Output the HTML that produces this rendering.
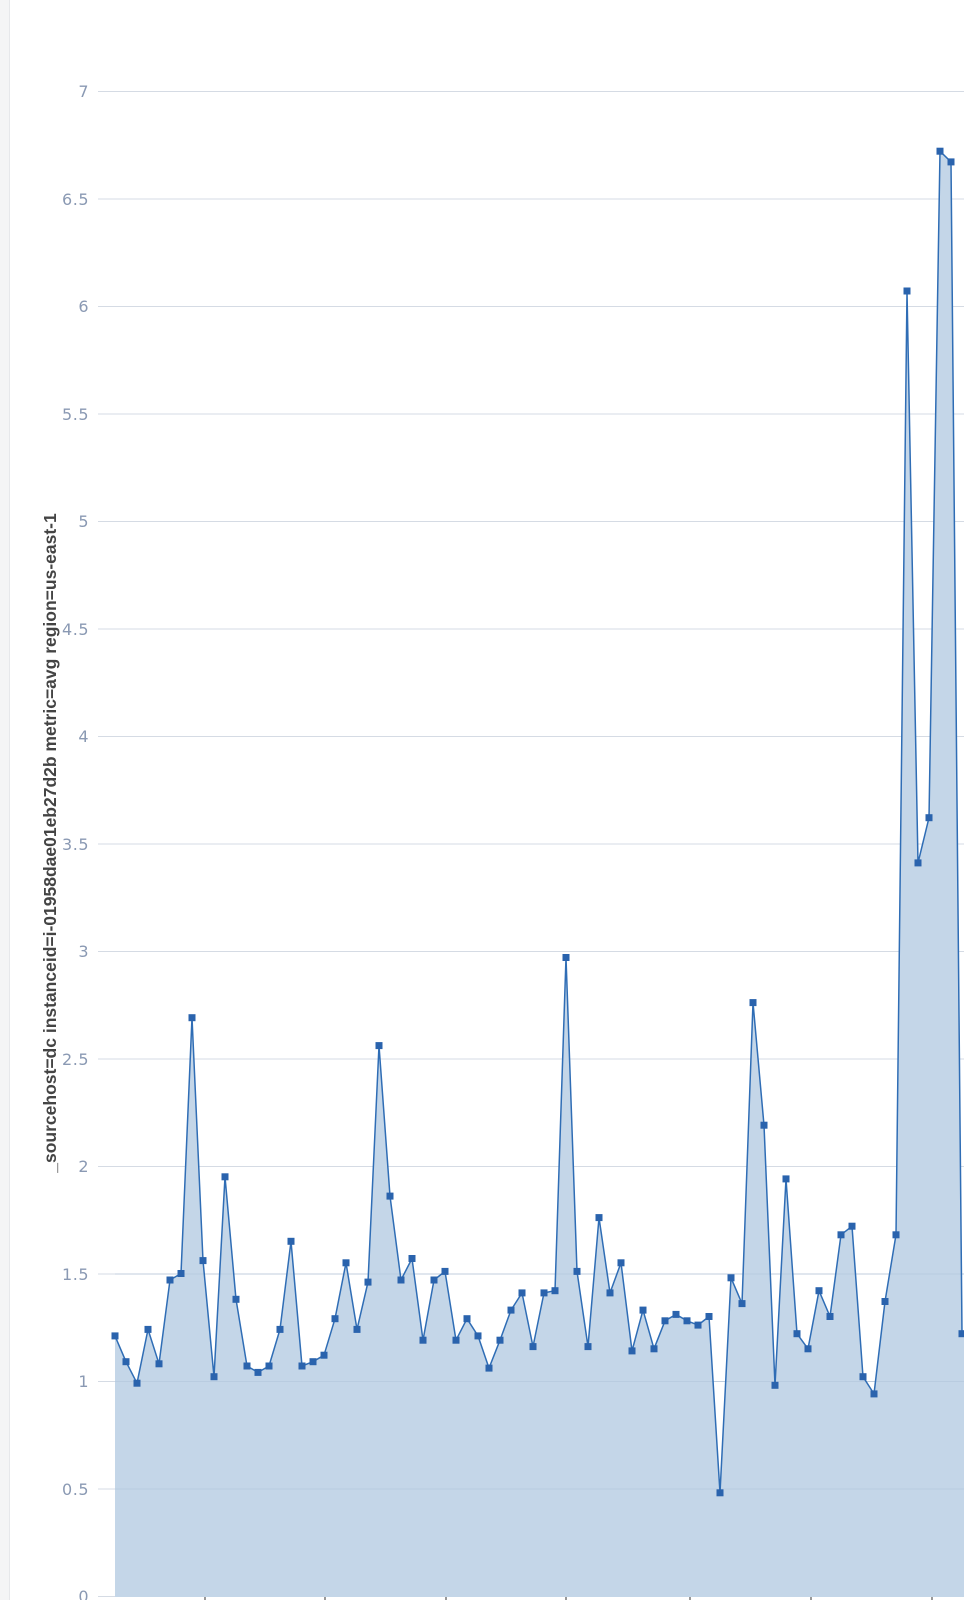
<!DOCTYPE html>
<html><head><meta charset="utf-8"><style>
html,body{margin:0;padding:0;background:#fff;}
svg{display:block;}
</style></head><body>
<svg width="964" height="1600" viewBox="0 0 964 1600" xmlns="http://www.w3.org/2000/svg">
<defs>
<marker id="m" markerWidth="8" markerHeight="8" refX="4" refY="4" markerUnits="userSpaceOnUse">
<rect x="0.5" y="0.5" width="7" height="7" fill="#2a63ad"/>
</marker>
</defs>
<rect x="0" y="0" width="9" height="1600" fill="#f4f5f6"/>
<rect x="9" y="0" width="1" height="1600" fill="#e6e8eb"/>
<g stroke="#d5dbe4" stroke-width="1">
<line x1="98" y1="91.5" x2="964" y2="91.5"/>
<line x1="98" y1="199" x2="964" y2="199"/>
<line x1="98" y1="306.5" x2="964" y2="306.5"/>
<line x1="98" y1="414" x2="964" y2="414"/>
<line x1="98" y1="521.5" x2="964" y2="521.5"/>
<line x1="98" y1="629" x2="964" y2="629"/>
<line x1="98" y1="736.5" x2="964" y2="736.5"/>
<line x1="98" y1="844" x2="964" y2="844"/>
<line x1="98" y1="951.5" x2="964" y2="951.5"/>
<line x1="98" y1="1059" x2="964" y2="1059"/>
<line x1="98" y1="1166.5" x2="964" y2="1166.5"/>
<line x1="98" y1="1274" x2="964" y2="1274"/>
<line x1="98" y1="1381.5" x2="964" y2="1381.5"/>
<line x1="98" y1="1489" x2="964" y2="1489"/>
<line x1="98" y1="1596.5" x2="964" y2="1596.5"/>
</g>
<g font-family="DejaVu Sans, sans-serif" font-size="16" fill="#8a99b3" text-anchor="end" letter-spacing="0.5">
<text x="89" y="97">7</text>
<text x="89" y="205">6.5</text>
<text x="89" y="312">6</text>
<text x="89" y="420">5.5</text>
<text x="89" y="527">5</text>
<text x="89" y="635">4.5</text>
<text x="89" y="742">4</text>
<text x="89" y="850">3.5</text>
<text x="89" y="957">3</text>
<text x="89" y="1065">2.5</text>
<text x="89" y="1172">2</text>
<text x="89" y="1280">1.5</text>
<text x="89" y="1387">1</text>
<text x="89" y="1495">0.5</text>
<text x="89" y="1602">0</text>
</g>
<text transform="translate(56,843) rotate(-90)" font-family="Liberation Sans, sans-serif" font-size="17.5" font-weight="bold" fill="#444" text-anchor="middle">_sourcehost=dc instanceid=i-01958dae01eb27d2b metric=avg region=us-east-1</text>
<polygon fill="#c4d6e8" points="115,1597 115,1335.9 126,1361.7 137,1383.2 148,1329.4 159,1363.8 170,1280 181,1273.5 192,1017.7 203,1260.6 214,1376.7 225,1176.8 236,1299.3 247,1366 258,1372.4 269,1366 280,1329.4 291,1241.3 302,1366 313,1361.7 324,1355.2 335,1318.7 346,1262.8 357,1329.4 368,1282.1 379,1045.6 390,1196.1 401,1280 412,1258.5 423,1340.2 434,1280 445,1271.4 456,1340.2 467,1318.7 478,1335.9 489,1368.1 500,1340.2 511,1310.1 522,1292.9 533,1346.6 544,1292.9 555,1290.7 566,957.5 577,1271.4 588,1346.6 599,1217.6 610,1292.9 621,1262.8 632,1350.9 643,1310.1 654,1348.8 665,1320.8 676,1314.4 687,1320.8 698,1325.1 709,1316.5 720,1492.8 731,1277.8 742,1303.6 753,1002.6 764,1125.2 775,1385.3 786,1178.9 797,1333.7 808,1348.8 819,1290.7 830,1316.5 841,1234.8 852,1226.2 863,1376.7 874,1393.9 885,1301.5 896,1234.8 907,291 918,862.9 929,817.7 940,151.2 951,161.9 962,1333.7 964,1333.7 964,1597"/>
<g stroke="#b3c6db" stroke-width="1" opacity="0.6">
<line x1="115" y1="1381.5" x2="964" y2="1381.5"/>
<line x1="115" y1="1489" x2="964" y2="1489"/>
<line x1="115" y1="1274" x2="964" y2="1274"/>
</g>
<polyline fill="none" stroke="#2f6db5" stroke-width="1.5" stroke-linejoin="round" marker-start="url(#m)" marker-mid="url(#m)" marker-end="url(#m)" points="115,1335.9 126,1361.7 137,1383.2 148,1329.4 159,1363.8 170,1280 181,1273.5 192,1017.7 203,1260.6 214,1376.7 225,1176.8 236,1299.3 247,1366 258,1372.4 269,1366 280,1329.4 291,1241.3 302,1366 313,1361.7 324,1355.2 335,1318.7 346,1262.8 357,1329.4 368,1282.1 379,1045.6 390,1196.1 401,1280 412,1258.5 423,1340.2 434,1280 445,1271.4 456,1340.2 467,1318.7 478,1335.9 489,1368.1 500,1340.2 511,1310.1 522,1292.9 533,1346.6 544,1292.9 555,1290.7 566,957.5 577,1271.4 588,1346.6 599,1217.6 610,1292.9 621,1262.8 632,1350.9 643,1310.1 654,1348.8 665,1320.8 676,1314.4 687,1320.8 698,1325.1 709,1316.5 720,1492.8 731,1277.8 742,1303.6 753,1002.6 764,1125.2 775,1385.3 786,1178.9 797,1333.7 808,1348.8 819,1290.7 830,1316.5 841,1234.8 852,1226.2 863,1376.7 874,1393.9 885,1301.5 896,1234.8 907,291 918,862.9 929,817.7 940,151.2 951,161.9 962,1333.7"/>
<g stroke="#333" stroke-width="1">
<line x1="205" y1="1597" x2="205" y2="1600"/>
<line x1="325" y1="1597" x2="325" y2="1600"/>
<line x1="446" y1="1597" x2="446" y2="1600"/>
<line x1="566" y1="1597" x2="566" y2="1600"/>
<line x1="690" y1="1597" x2="690" y2="1600"/>
<line x1="811" y1="1597" x2="811" y2="1600"/>
<line x1="932" y1="1597" x2="932" y2="1600"/>
</g>
</svg>
</body></html>
